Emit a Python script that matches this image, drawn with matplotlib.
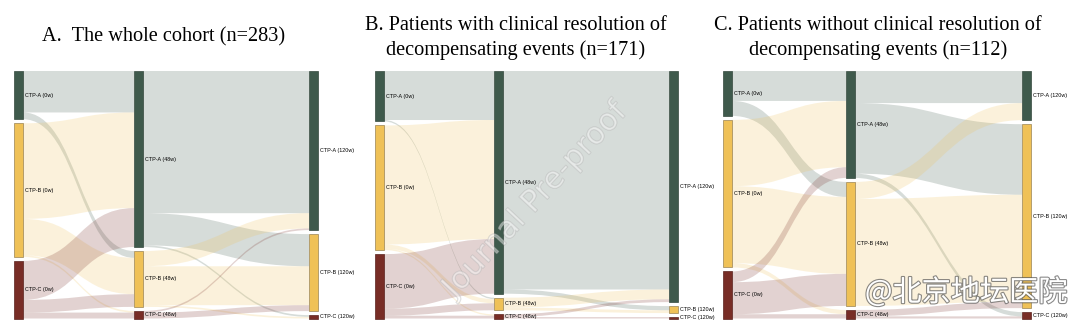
import matplotlib
matplotlib.use("Agg")
from matplotlib import pyplot as plt
from matplotlib.path import Path
from matplotlib.patches import PathPatch, Rectangle
import matplotlib.patheffects as pe

# Data (patients per CTP grade transition)
grades = ["CTP-A", "CTP-B", "CTP-C"]
stages = ["0w", "48w", "120w"]
titles = ["A.  The whole cohort (n=283)",
          "B. Patients with clinical resolution of\ndecompensating events (n=171)",
          "C. Patients without clinical resolution of\ndecompensating events (n=112)"]

# rows = from grade, columns = to grade
whole_0_48 = [[49, 8, 0], [113, 43, 2], [46, 15, 7]]
whole_48_120 = [[168, 38, 2], [18, 46, 2], [2, 7, 0]]
resolved_0_48 = [[35, 1, 0], [85, 3, 1], [39, 5, 2]]
resolved_48_120 = [[156, 3, 0], [7, 2, 0], [2, 0, 1]]
unresolved_0_48 = [[14, 7, 0], [31, 36, 2], [5, 15, 2]]
unresolved_48_120 = [[15, 33, 2], [8, 50, 0], [0, 3, 1]]

node_colors = ["#3f5a4c", "#efc157", "#782d26"]
edge_colors = ["#34483d", "#9a8455", "#5a231e"]

# layout (pixels)
col_x = [[14, 134, 309], [375, 494, 669], [723, 846, 1022]]
title_x = [164, 516, 878]
node_w = 9
y_top, y_bot, gap = 71, 318.5, 4


def stack_nodes(sizes, scale):
    ys = []
    y = y_top
    for s in sizes:
        ys.append(y)
        y += s * scale + gap
    return ys


def ribbon(ax, x0, y0, x1, y1, h, color):
    xm = (x0 + x1) / 2
    verts = [(x0, y0), (xm, y0), (xm, y1), (x1, y1),
             (x1, y1 + h),
             (xm, y1 + h), (xm, y0 + h), (x0, y0 + h),
             (x0, y0)]
    codes = [Path.MOVETO, Path.CURVE4, Path.CURVE4, Path.CURVE4,
             Path.LINETO,
             Path.CURVE4, Path.CURVE4, Path.CURVE4,
             Path.CLOSEPOLY]
    ax.add_patch(PathPatch(Path(verts, codes), facecolor=color, alpha=0.21,
                           edgecolor="none", zorder=1))


def draw_sankey(ax, xs, flows):
    sizes = [[sum(r) for r in flows[0]],
             [sum(r) for r in flows[1]],
             [sum(r[j] for r in flows[1]) for j in range(3)]]
    total = sum(sizes[0])
    scale = (y_bot - y_top - 2 * gap) / total
    ys = [stack_nodes(s, scale) for s in sizes]

    for k, f in enumerate(flows):
        out_off = list(ys[k])
        in_off = list(ys[k + 1])
        for i in range(3):
            for j in range(3):
                v = f[i][j]
                if v == 0:
                    continue
                h = v * scale
                ribbon(ax, xs[k] + node_w, out_off[i], xs[k + 1], in_off[j], h,
                       node_colors[i])
                out_off[i] += h
                in_off[j] += h

    for c in range(3):
        for i in range(3):
            h = sizes[c][i] * scale
            ax.add_patch(Rectangle((xs[c], ys[c][i]), node_w, h,
                                   facecolor=node_colors[i], edgecolor=edge_colors[i],
                                   lw=0.5, zorder=3))
            ax.text(xs[c] + node_w + 2, ys[c][i] + h / 2,
                    f"{grades[i]} ({stages[c]})", fontsize=3.9,
                    family="Liberation Sans", va="center", ha="left", zorder=4)


fig = plt.figure(figsize=(10.8, 3.35), dpi=100)
ax = fig.add_axes([0, 0, 1, 1])
ax.set_xlim(0, 1080)
ax.set_ylim(335, 0)
ax.axis("off")

panels = [(whole_0_48, whole_48_120),
          (resolved_0_48, resolved_48_120),
          (unresolved_0_48, unresolved_48_120)]
for p, flows in enumerate(panels):
    draw_sankey(ax, col_x[p], flows)

ax.text(title_x[0], 37, titles[0], fontsize=14.6, family="Liberation Serif",
        ha="center", va="center")
for p in (1, 2):
    ax.text(title_x[p], 38, titles[p], fontsize=14.6, family="Liberation Serif",
            ha="center", va="center", linespacing=1.38)

# watermarks
ax.text(535, 200, "Journal Pre-proof", fontsize=22, rotation=47,
        ha="center", va="center", color=(1, 1, 1, 0.25), zorder=5,
        path_effects=[pe.withStroke(linewidth=0.9, foreground=(0.7, 0.7, 0.7, 0.45))])
ax.text(966, 293, "@北京地坛医院", fontsize=21, ha="center", va="center",
        family=["Noto Sans CJK SC", "DejaVu Sans"], color="white", zorder=6,
        path_effects=[pe.withStroke(linewidth=1.6, foreground=(0.35, 0.35, 0.35, 0.7))])

fig.savefig("out.png", dpi=100)
